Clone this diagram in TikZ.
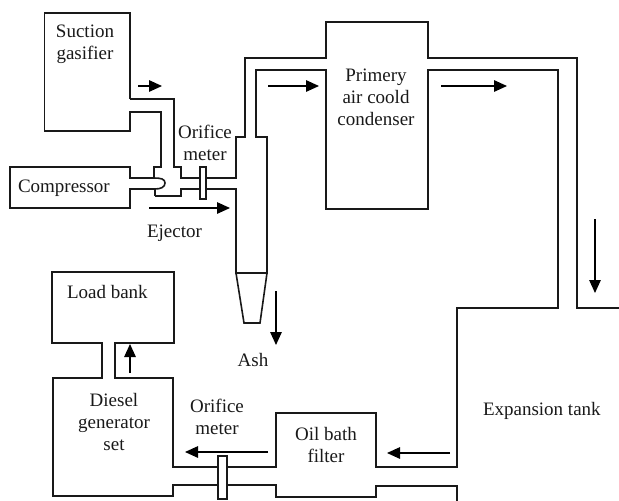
\documentclass[tikz,border=0pt]{standalone}
\usepackage{fontspec}
\setmainfont{Liberation Serif}
\usetikzlibrary{arrows.meta}
\tikzset{
  wall/.style={draw=black!90,line width=1.6pt,line join=miter},
  flow/.style={draw=black,line width=1.4pt,-{Triangle[length=13pt,width=11.5pt]}},
  label/.style={inner sep=0pt,outer sep=0pt,font=\fontsize{19}{22}\selectfont,text=black!90,align=center,anchor=base},
  leftlabel/.style={label,anchor=base west}
}
\begin{document}
\begin{tikzpicture}[x=1pt,y=-1pt]
\useasboundingbox (0,0) rectangle (619,501);
% gasifier, ejector and compressor
\draw[wall] (130,99) -- (130,13) -- (44.5,13) -- (44.5,131) -- (130,131) -- (130,112) -- (161,112) -- (161,167) -- (154,167) -- (154,178);
\draw[wall] (130,99) -- (174,99) -- (174,167) -- (181,167) -- (181,178) -- (236,178) -- (236,137) -- (245,137) -- (245,58) -- (326,58) -- (326,22) -- (428,22) -- (428,58) -- (577,58) -- (577,308) -- (619,308);
\draw[wall] (155,196) -- (181,196) -- (181,189) -- (236,189) -- (236,273) -- (267,273) -- (267,137) -- (256,137) -- (256,70) -- (326,70) -- (326,209) -- (428,209) -- (428,70) -- (558,70) -- (558,308) -- (457,308) -- (457,467) -- (376,467) -- (376,413) -- (276,413) -- (276,467) -- (173,467) -- (173,378) -- (115,378) -- (115,343) -- (174,343) -- (174,272) -- (52,272) -- (52,343) -- (102,343) -- (102,378) -- (53,378) -- (53,496) -- (173,496) -- (173,485) -- (276,485) -- (276,497) -- (376,497) -- (376,486) -- (457,486) -- (457,501);
\draw[wall] (155,196) -- (155,189);
\draw[wall] (130,178) -- (154,178) .. controls (161,178) and (165,179) .. (165,183) .. controls (165,187) and (161,189) .. (155,189) -- (130,189) -- (130,208) -- (10,208) -- (10,167) -- (130,167) -- cycle;
% cyclone cone
\draw[wall] (236,273) -- (244,323) -- (260,323) -- (267,273);
% orifice plates
\draw[wall,fill=white] (200,167) rectangle (206,199);
\draw[wall,fill=white] (218,456) rectangle (227,499);
% flow arrows
\coordinate (a1s) at (138,86); \coordinate (a1e) at (162,86);
\coordinate (a2s) at (268,86); \coordinate (a2e) at (319,86);
\coordinate (a3s) at (441,86); \coordinate (a3e) at (507,86);
\coordinate (a4s) at (595,219); \coordinate (a4e) at (595,293);
\coordinate (a5s) at (149,208); \coordinate (a5e) at (230,208);
\coordinate (a6s) at (276,291); \coordinate (a6e) at (276,345);
\coordinate (a7s) at (130,373); \coordinate (a7e) at (130,344);
\coordinate (a8s) at (268,452); \coordinate (a8e) at (185,452);
\coordinate (a9s) at (450,453); \coordinate (a9e) at (387,453);
\foreach \n in {1,...,9} \draw[flow] (a\n s) -- (a\n e);
% labels
\node[label] (gasifier) at (85,59) {Suction\\gasifier};
\node[label] (meterA) at (205,160) {Orifice\\meter};
\node[leftlabel] (compressor) at (18,192) {Compressor};
\node[leftlabel] (ejector) at (147,237) {Ejector};
\node[label] (condenser) at (376,125) {Primery\\air coold\\condenser};
\node[leftlabel] (load) at (67,298) {Load bank};
\node[label] (diesel) at (114,450) {Diesel\\generator\\set};
\node[label] (meterB) at (217,434) {Orifice\\meter};
\node[label] (filter) at (326,462) {Oil bath\\filter};
\node[label] (ash) at (253,366) {Ash};
\node[leftlabel] (tank) at (483,415) {Expansion tank};
\end{tikzpicture}
\end{document}
